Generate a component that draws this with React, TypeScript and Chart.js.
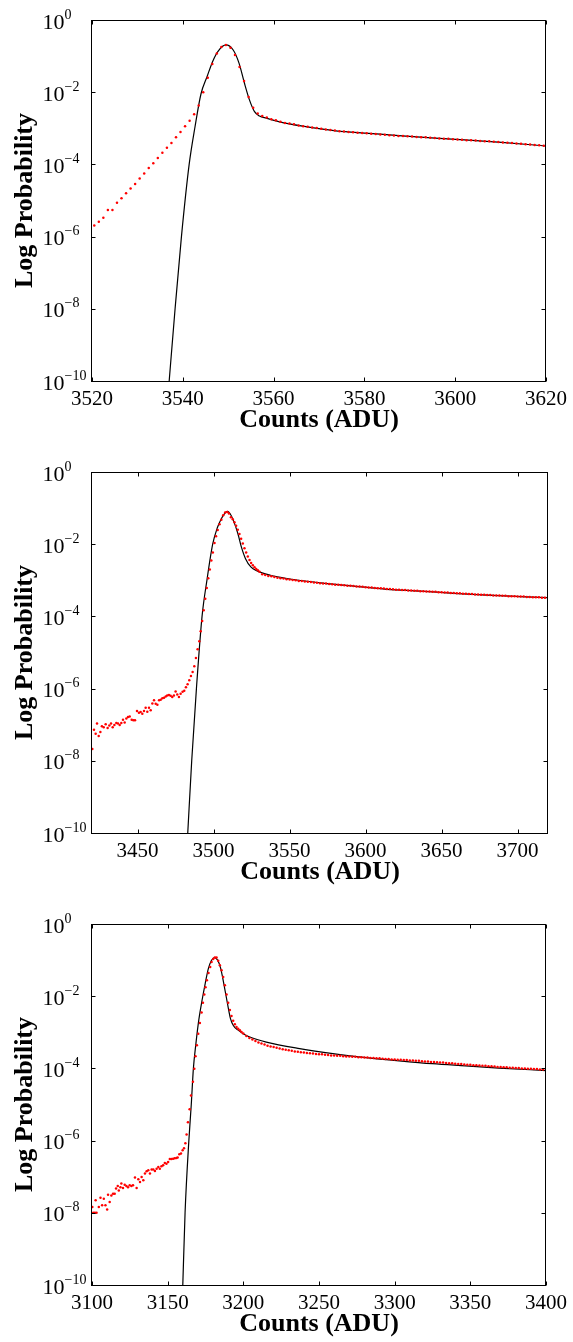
import React, { useEffect, useRef } from "react";
import { Chart, registerables } from "chart.js";

Chart.register(...registerables);

const SERIF = "'Liberation Serif', 'Times New Roman', Times, serif";

const Y_TICK_EXPONENTS = [0, -2, -4, -6, -8, -10];
const Y_AXIS_TITLE = "Log Probability";
const X_AXIS_TITLE = "Counts (ADU)";

// ---------------- Panel 1 ----------------
const P1_X_RANGE = [3520, 3620];
const P1_X_TICKS = [3520, 3540, 3560, 3580, 3600, 3620];
const P1_DATA_X = [
  3520.5, 3521.5, 3522.5, 3523.5, 3524.5, 3525.5, 3526.5, 3527.5, 3528.5, 3529.5,
  3530.5, 3531.5, 3532.5, 3533.5, 3534.5, 3535.5, 3536.5, 3537.5, 3538.5, 3539.5,
  3540.5, 3541.5, 3542.5, 3543.5, 3544.5, 3545.5, 3546.5, 3547.5, 3548.5, 3549.5,
  3550.5, 3551.5, 3552.5, 3553.5, 3554.5, 3555.5, 3556.5, 3557.5, 3558.5, 3559.5,
  3560.5, 3561.5, 3562.5, 3563.5, 3564.5, 3565.5, 3566.5, 3567.5, 3568.5, 3569.5,
  3570.5, 3571.5, 3572.5, 3573.5, 3574.5, 3575.5, 3576.5, 3577.5, 3578.5, 3579.5,
  3580.5, 3581.5, 3582.5, 3583.5, 3584.5, 3585.5, 3586.5, 3587.5, 3588.5, 3589.5,
  3590.5, 3591.5, 3592.5, 3593.5, 3594.5, 3595.5, 3596.5, 3597.5, 3598.5, 3599.5,
  3600.5, 3601.5, 3602.5, 3603.5, 3604.5, 3605.5, 3606.5, 3607.5, 3608.5, 3609.5,
  3610.5, 3611.5, 3612.5, 3613.5, 3614.5, 3615.5, 3616.5, 3617.5, 3618.5, 3619.5,
];
const P1_DATA_LOG10 = [
  -5.69, -5.59, -5.48, -5.26, -5.26, -5.06, -4.94, -4.80, -4.67, -4.54,
  -4.39, -4.25, -4.10, -3.97, -3.82, -3.68, -3.54, -3.41, -3.25, -3.10,
  -2.94, -2.79, -2.61, -2.37, -2.00, -1.60, -1.22, -0.93, -0.75, -0.69,
  -0.77, -0.97, -1.30, -1.69, -2.13, -2.43, -2.59, -2.66, -2.70, -2.75,
  -2.78, -2.82, -2.85, -2.87, -2.89, -2.92, -2.94, -2.96, -2.98, -2.99,
  -3.01, -3.03, -3.05, -3.06, -3.08, -3.09, -3.10, -3.11, -3.12, -3.13,
  -3.14, -3.15, -3.16, -3.17, -3.18, -3.19, -3.20, -3.21, -3.21, -3.22,
  -3.23, -3.24, -3.25, -3.25, -3.26, -3.27, -3.28, -3.29, -3.29, -3.30,
  -3.31, -3.32, -3.33, -3.33, -3.34, -3.35, -3.36, -3.36, -3.37, -3.38,
  -3.39, -3.40, -3.41, -3.42, -3.43, -3.44, -3.45, -3.46, -3.47, -3.48,
];
const P1_MODEL_X = [
  3537.0, 3538.3, 3539.7, 3541.4, 3542.7, 3544.0, 3545.4, 3546.6, 3547.8, 3549.5,
  3551.1, 3552.4, 3553.6, 3554.7, 3555.8, 3556.9, 3558.4, 3561.3, 3566.4, 3573.7,
  3581.0, 3588.3, 3595.6, 3602.9, 3610.2, 3620.0,
];
const P1_MODEL_LOG10 = [
  -10.0, -8.0, -6.0, -4.0, -2.95, -2.05, -1.55, -1.14, -0.86, -0.69,
  -0.83, -1.20, -1.76, -2.22, -2.54, -2.66, -2.72, -2.82, -2.94, -3.07,
  -3.14, -3.21, -3.27, -3.33, -3.39, -3.49,
];

// ---------------- Panel 2 ----------------
const P2_X_RANGE = [3420, 3720];
const P2_X_TICKS = [3450, 3500, 3550, 3600, 3650, 3700];
const P2_DATA_X = [
  3420.2, 3421.3, 3422.4, 3423.3, 3424.4, 3425.5, 3426.5, 3427.7, 3429.0, 3430.3,
  3431.4, 3432.5, 3433.6, 3434.7, 3436.0, 3437.1, 3438.2, 3439.3, 3440.4, 3441.5,
  3442.6, 3443.7, 3444.8, 3446.1, 3447.2, 3448.3, 3449.6, 3450.9, 3452.0, 3453.1,
  3454.2, 3455.3, 3456.4, 3457.5, 3458.6, 3459.7, 3460.8, 3461.9, 3463.0, 3464.1,
  3465.2, 3466.3, 3467.4, 3468.5, 3469.5, 3470.6, 3471.7, 3472.8, 3473.9, 3475.0,
  3476.1, 3477.2, 3478.3, 3479.6, 3480.7, 3481.8, 3482.9, 3484.0, 3485.1, 3486.2,
  3487.3, 3488.4, 3489.5, 3490.6, 3491.5, 3492.5, 3493.5, 3494.5, 3495.5, 3496.5,
  3497.5, 3498.5, 3499.5, 3500.6, 3501.6, 3502.7, 3503.9, 3505.1, 3506.3, 3507.6,
  3509.0, 3510.1, 3511.4, 3512.6, 3513.7, 3514.8, 3515.9, 3517.0, 3518.1, 3519.2,
  3520.3, 3521.4, 3522.5, 3523.6, 3524.7, 3525.8, 3526.9, 3528.0, 3529.1, 3530.2,
  3532, 3534, 3536, 3538, 3540, 3542, 3544, 3546, 3548, 3550,
  3552, 3554, 3556, 3558, 3560, 3562, 3564, 3566, 3568, 3570,
  3572, 3574, 3576, 3578, 3580, 3582, 3584, 3586, 3588, 3590,
  3592, 3594, 3596, 3598, 3600, 3602, 3604, 3606, 3608, 3610,
  3612, 3614, 3616, 3618, 3620, 3622, 3624, 3626, 3628, 3630,
  3632, 3634, 3636, 3638, 3640, 3642, 3644, 3646, 3648, 3650,
  3652, 3654, 3656, 3658, 3660, 3662, 3664, 3666, 3668, 3670,
  3672, 3674, 3676, 3678, 3680, 3682, 3684, 3686, 3688, 3690,
  3692, 3694, 3696, 3698, 3700, 3702, 3704, 3706, 3708, 3710,
  3712, 3714, 3716, 3718, 3720,
];
const P2_DATA_LOG10 = [
  -7.67, -7.14, -7.25, -6.97, -7.31, -7.20, -7.04, -7.07, -6.99, -7.09,
  -7.02, -6.97, -7.07, -7.01, -6.95, -6.97, -7.01, -6.95, -6.86, -6.94,
  -6.83, -6.79, -6.77, -6.86, -6.88, -6.88, -6.62, -6.67, -6.65, -6.70,
  -6.62, -6.53, -6.64, -6.53, -6.60, -6.41, -6.32, -6.42, -6.45, -6.32,
  -6.31, -6.27, -6.25, -6.22, -6.19, -6.18, -6.20, -6.23, -6.19, -6.08,
  -6.16, -6.23, -6.14, -6.09, -6.06, -5.96, -5.88, -5.77, -5.65, -5.54,
  -5.38, -5.15, -4.91, -4.69, -4.41, -4.13, -3.83, -3.51, -3.21, -2.94,
  -2.70, -2.45, -2.23, -1.97, -1.78, -1.61, -1.45, -1.32, -1.20, -1.12,
  -1.11, -1.15, -1.25, -1.31, -1.39, -1.49, -1.60, -1.72, -1.85, -1.98,
  -2.11, -2.23, -2.34, -2.44, -2.52, -2.58, -2.64, -2.69, -2.72, -2.76,
  -2.83, -2.85, -2.88, -2.89, -2.91, -2.93, -2.94, -2.95, -2.97, -2.98,
  -2.99, -3.00, -3.02, -3.02, -3.03, -3.04, -3.05, -3.06, -3.07, -3.08,
  -3.09, -3.09, -3.10, -3.11, -3.12, -3.12, -3.13, -3.14, -3.15, -3.15,
  -3.16, -3.17, -3.17, -3.18, -3.19, -3.20, -3.20, -3.21, -3.22, -3.22,
  -3.23, -3.24, -3.24, -3.25, -3.26, -3.26, -3.27, -3.27, -3.28, -3.28,
  -3.29, -3.29, -3.30, -3.30, -3.31, -3.31, -3.32, -3.32, -3.33, -3.33,
  -3.34, -3.34, -3.35, -3.35, -3.36, -3.36, -3.37, -3.37, -3.38, -3.38,
  -3.39, -3.39, -3.40, -3.40, -3.41, -3.41, -3.42, -3.42, -3.42, -3.43,
  -3.43, -3.44, -3.44, -3.44, -3.45, -3.45, -3.45, -3.46, -3.46, -3.47,
  -3.47, -3.47, -3.48, -3.48, -3.48,
];
const P2_MODEL_X = [
  3483.0, 3485.6, 3488.7, 3492.4, 3495.6, 3499.4, 3502.4, 3505.0, 3507.2, 3509.0,
  3510.8, 3513.0, 3516.0, 3518.3, 3521.0, 3524.5, 3528.6, 3537.4, 3548.3, 3570.3,
  3592.2, 3614.1, 3636.0, 3658.0, 3679.9, 3701.8, 3720.0,
];
const P2_MODEL_LOG10 = [
  -10.0, -8.0, -6.0, -4.0, -3.0, -2.0, -1.55, -1.30, -1.15, -1.09,
  -1.15, -1.34, -1.71, -2.08, -2.40, -2.63, -2.74, -2.86, -2.95, -3.07,
  -3.16, -3.25, -3.30, -3.36, -3.41, -3.45, -3.48,
];

// ---------------- Panel 3 ----------------
const P3_X_RANGE = [3100, 3400];
const P3_X_TICKS = [3100, 3150, 3200, 3250, 3300, 3350, 3400];
const P3_DATA_X = [
  3100.2, 3100.8, 3101.9, 3102.4, 3103.0, 3104.5, 3105.6, 3106.7, 3107.8, 3108.9,
  3110.0, 3110.6, 3111.7, 3112.8, 3113.9, 3115.0, 3115.9, 3117.0, 3117.7, 3118.8,
  3119.4, 3120.5, 3121.6, 3122.7, 3123.8, 3124.9, 3126.0, 3127.1, 3128.4, 3129.5,
  3130.6, 3131.7, 3132.8, 3133.9, 3135.0, 3136.1, 3137.2, 3138.3, 3139.4, 3140.5,
  3141.6, 3142.7, 3143.8, 3144.8, 3145.9, 3147.0, 3148.1, 3149.2, 3150.3, 3151.4,
  3152.5, 3153.6, 3154.7, 3155.8, 3156.6, 3157.7, 3158.8, 3159.9, 3160.8, 3161.7,
  3162.5, 3163.4, 3164.5, 3165.4, 3166.7, 3167.6, 3168.4, 3169.3, 3170.2, 3171.3,
  3172.4, 3173.3, 3174.2, 3175.0, 3175.9, 3177.0, 3178.1, 3179.0, 3180.1, 3181.2,
  3182.3, 3183.4, 3184.5, 3185.6, 3186.7, 3187.8, 3188.9, 3190.0, 3191.1, 3192.2,
  3193.3, 3194.4, 3195.5, 3196.6, 3197.7, 3198.8, 3200.0,
  3202, 3204, 3206, 3208, 3210, 3212, 3214, 3216, 3218, 3220,
  3222, 3224, 3226, 3228, 3230, 3232, 3234, 3236, 3238, 3240,
  3242, 3244, 3246, 3248, 3250, 3252, 3254, 3256, 3258, 3260,
  3262, 3264, 3266, 3268, 3270, 3272, 3274, 3276, 3278, 3280,
  3282, 3284, 3286, 3288, 3290, 3292, 3294, 3296, 3298, 3300,
  3302, 3304, 3306, 3308, 3310, 3312, 3314, 3316, 3318, 3320,
  3322, 3324, 3326, 3328, 3330, 3332, 3334, 3336, 3338, 3340,
  3342, 3344, 3346, 3348, 3350, 3352, 3354, 3356, 3358, 3360,
  3362, 3364, 3366, 3368, 3370, 3372, 3374, 3376, 3378, 3380,
  3382, 3384, 3386, 3388, 3390, 3392, 3394, 3396, 3398, 3400,
];
const P3_DATA_LOG10 = [
  -7.84, -8.00, -8.00, -7.65, -8.00, -7.84, -7.58, -7.79, -7.61, -7.79,
  -7.91, -7.50, -7.70, -7.52, -7.47, -7.47, -7.33, -7.26, -7.38, -7.29,
  -7.19, -7.31, -7.22, -7.26, -7.29, -7.24, -7.26, -7.24, -7.02, -7.31,
  -7.07, -7.15, -7.01, -7.10, -6.91, -6.85, -6.82, -6.91, -6.80, -6.80,
  -6.84, -6.78, -6.73, -6.78, -6.71, -6.68, -6.62, -6.64, -6.59, -6.51,
  -6.51, -6.50, -6.49, -6.48, -6.47, -6.38, -6.36, -6.27, -6.21, -6.07,
  -5.83, -5.49, -5.13, -4.75, -4.37, -4.01, -3.66, -3.36, -3.04, -2.74,
  -2.45, -2.18, -1.95, -1.75, -1.56, -1.36, -1.19, -1.05, -0.97, -0.93,
  -0.93, -1.02, -1.14, -1.28, -1.47, -1.70, -1.95, -2.18, -2.38, -2.55,
  -2.68, -2.78, -2.85, -2.90, -2.94, -2.99, -3.03,
  -3.10, -3.16, -3.20, -3.24, -3.28, -3.31, -3.34, -3.37, -3.39, -3.41,
  -3.43, -3.45, -3.47, -3.48, -3.50, -3.51, -3.53, -3.54, -3.55, -3.56,
  -3.57, -3.58, -3.59, -3.60, -3.61, -3.61, -3.62, -3.63, -3.64, -3.64,
  -3.65, -3.65, -3.66, -3.67, -3.67, -3.68, -3.68, -3.69, -3.69, -3.70,
  -3.70, -3.71, -3.71, -3.72, -3.72, -3.73, -3.74, -3.74, -3.75, -3.75,
  -3.76, -3.76, -3.77, -3.77, -3.78, -3.78, -3.79, -3.79, -3.80, -3.81,
  -3.81, -3.82, -3.82, -3.83, -3.84, -3.84, -3.85, -3.86, -3.86, -3.87,
  -3.88, -3.88, -3.89, -3.90, -3.90, -3.91, -3.91, -3.92, -3.93, -3.93,
  -3.94, -3.94, -3.95, -3.96, -3.96, -3.97, -3.97, -3.98, -3.98, -3.99,
  -3.99, -4.00, -4.00, -4.01, -4.01, -4.02, -4.02, -4.03, -4.03, -4.03,
];
const P3_MODEL_X = [
  3160.0, 3161.5, 3164.0, 3165.6, 3167.0, 3168.7, 3170.6, 3173.0, 3174.8, 3176.8,
  3178.8, 3180.8, 3183.0, 3185.0, 3187.3, 3189.5, 3191.5, 3193.5, 3196.6, 3199.9,
  3204.3, 3215.2, 3237.2, 3259.2, 3281.1, 3303.0, 3325.0, 3346.9, 3368.8, 3400.0,
];
const P3_MODEL_LOG10 = [
  -10.0, -8.0, -6.0, -5.0, -4.0, -3.3, -2.65, -2.05, -1.65, -1.25,
  -1.02, -0.93, -1.00, -1.22, -1.70, -2.20, -2.62, -2.82, -2.94, -3.04,
  -3.13, -3.27, -3.45, -3.59, -3.70, -3.79, -3.87, -3.93, -3.99, -4.06,
];

type PanelSpec = {
  xRange: number[];
  xTicks: number[];
  dataX: number[];
  dataLog10: number[];
  modelX: number[];
  modelLog10: number[];
};

const PANELS: PanelSpec[] = [
  { xRange: P1_X_RANGE, xTicks: P1_X_TICKS, dataX: P1_DATA_X, dataLog10: P1_DATA_LOG10, modelX: P1_MODEL_X, modelLog10: P1_MODEL_LOG10 },
  { xRange: P2_X_RANGE, xTicks: P2_X_TICKS, dataX: P2_DATA_X, dataLog10: P2_DATA_LOG10, modelX: P2_MODEL_X, modelLog10: P2_MODEL_LOG10 },
  { xRange: P3_X_RANGE, xTicks: P3_X_TICKS, dataX: P3_DATA_X, dataLog10: P3_DATA_LOG10, modelX: P3_MODEL_X, modelLog10: P3_MODEL_LOG10 },
];

const CANVAS_W = 573;
const CANVAS_H = 452;

function toPoints(xs: number[], logs: number[]) {
  return xs.map((x, i) => ({ x, y: Math.pow(10, logs[i]) }));
}

const framePlugin = {
  id: "matlabFrame",
  afterDraw(chart: any) {
    const { ctx, chartArea: a, scales } = chart;
    const xs = scales.x;
    const ys = scales.y;
    ctx.save();
    ctx.strokeStyle = "#000";
    ctx.lineWidth = 1;
    const L = Math.round(a.left) - 0.5;
    const R = Math.round(a.right) - 0.5;
    const T = Math.round(a.top) + 0.5;
    const B = Math.round(a.bottom) + 0.5;
    ctx.strokeRect(L, T, R - L, B - T);
    const TL = 4;
    ctx.beginPath();
    xs.ticks.forEach((t: any) => {
      const px = Math.round(xs.getPixelForValue(t.value)) + 0.5;
      ctx.moveTo(px, B);
      ctx.lineTo(px, B - TL);
      ctx.moveTo(px, T);
      ctx.lineTo(px, T + TL);
    });
    ys.ticks.forEach((t: any) => {
      const py = Math.round(ys.getPixelForValue(t.value)) + 0.5;
      ctx.moveTo(L, py);
      ctx.lineTo(L + TL, py);
      ctx.moveTo(R, py);
      ctx.lineTo(R - TL, py);
    });
    ctx.stroke();

    // y tick labels: "10" with a superscript exponent
    ctx.fillStyle = "#000";
    ctx.textAlign = "left";
    ctx.textBaseline = "alphabetic";
    ys.ticks.forEach((t: any) => {
      const py = ys.getPixelForValue(t.value);
      const exp = Math.round(Math.log10(t.value));
      ctx.font = `22px ${SERIF}`;
      const x0 = 42.6;
      ctx.fillText("10", x0, py + 8.5);
      const w = ctx.measureText("10").width;
      ctx.font = `14px ${SERIF}`;
      const expText = exp === 0 ? "0" : "\u2212" + Math.abs(exp);
      ctx.fillText(expText, x0 + w, py - 1.5);
    });
    ctx.restore();
  },
};

function Panel({ spec }: { spec: PanelSpec }) {
  const ref = useRef<HTMLCanvasElement | null>(null);
  useEffect(() => {
    if (!ref.current) return;
    const chart = new Chart(ref.current, {
      type: "scatter",
      data: {
        datasets: [
          {
            label: "data",
            data: toPoints(spec.dataX, spec.dataLog10),
            showLine: false,
            pointRadius: 1.25,
            pointHoverRadius: 1.25,
            pointBackgroundColor: "#ff0000",
            pointBorderColor: "#ff0000",
            pointBorderWidth: 0,
            order: 0,
          },
          {
            label: "model",
            data: toPoints(spec.modelX, spec.modelLog10),
            showLine: true,
            borderColor: "#000000",
            borderWidth: 1.2,
            pointRadius: 0,
            pointHoverRadius: 0,
            cubicInterpolationMode: "monotone",
            fill: false,
            order: 1,
          },
        ],
      },
      options: {
        responsive: false,
        animation: false,
        events: [],
        layout: { padding: { left: 0, right: 25, top: 20, bottom: 0 } },
        plugins: { legend: { display: false }, tooltip: { enabled: false } },
        scales: {
          x: {
            type: "linear",
            min: spec.xRange[0],
            max: spec.xRange[1],
            afterBuildTicks: (s: any) => {
              s.ticks = spec.xTicks.map((v) => ({ value: v }));
            },
            afterFit: (s: any) => {
              s.height = 71;
            },
            grid: { display: false, drawTicks: false },
            border: { display: false },
            ticks: {
              color: "#000",
              font: { family: SERIF, size: 21 },
              padding: 6,
              maxRotation: 0,
              autoSkip: false,
              callback: (v: any) => String(v),
            },
            title: {
              display: true,
              text: X_AXIS_TITLE,
              color: "#000",
              font: { family: SERIF, size: 26, weight: "bold", lineHeight: 1 },
              padding: { top: 0, bottom: 19 },
            },
          },
          y: {
            type: "logarithmic",
            min: 1e-10,
            max: 1,
            afterBuildTicks: (s: any) => {
              s.ticks = Y_TICK_EXPONENTS.map((e) => ({ value: Math.pow(10, e) }));
            },
            afterFit: (s: any) => {
              s.width = 92;
            },
            grid: { display: false, drawTicks: false },
            border: { display: false },
            ticks: { display: false },
            title: {
              display: true,
              text: Y_AXIS_TITLE,
              color: "#000",
              font: { family: SERIF, size: 26, weight: "bold", lineHeight: 1 },
              padding: { top: 12, bottom: 0 },
            },
          },
        },
      },
      plugins: [framePlugin],
    } as any);
    return () => chart.destroy();
  }, [spec]);
  return <canvas ref={ref} width={CANVAS_W} height={CANVAS_H} style={{ display: "block" }} />;
}

export default function App() {
  return (
    <div
      style={{
        position: "absolute",
        left: 0,
        top: 0,
        width: 573,
        height: 1342,
        overflow: "hidden",
        background: "#fff",
      }}
    >
      {PANELS.map((p, i) => (
        <div key={i} style={{ position: "absolute", left: 0, top: i * CANVAS_H, width: CANVAS_W, height: CANVAS_H }}>
          <Panel spec={p} />
        </div>
      ))}
    </div>
  );
}
